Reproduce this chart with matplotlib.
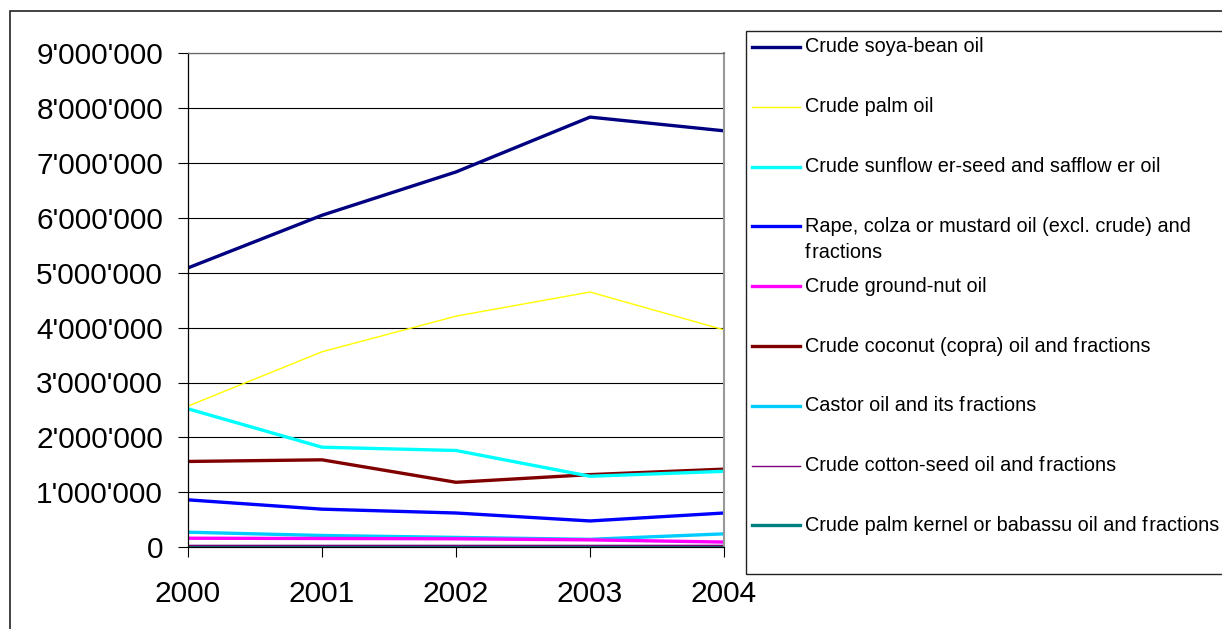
import matplotlib
matplotlib.use("Agg")
import matplotlib.pyplot as plt
from matplotlib.lines import Line2D
from matplotlib.patches import Rectangle
from matplotlib.ticker import FuncFormatter, MultipleLocator

plt.rcParams["font.family"] = ["Liberation Sans", "DejaVu Sans"]

years = ["2000", "2001", "2002", "2003", "2004"]

soya_bean = [5.09e6, 6.05e6, 6.84e6, 7.84e6, 7.59e6]
palm = [2.57e6, 3.56e6, 4.21e6, 4.65e6, 3.96e6]
sunflower = [2.52e6, 1.82e6, 1.76e6, 1.29e6, 1.38e6]
rape = [0.86e6, 0.69e6, 0.62e6, 0.475e6, 0.62e6]
ground_nut = [0.16e6, 0.155e6, 0.15e6, 0.13e6, 0.09e6]
coconut = [1.56e6, 1.59e6, 1.18e6, 1.32e6, 1.42e6]
castor = [0.27e6, 0.21e6, 0.175e6, 0.14e6, 0.24e6]
cotton_seed = [0.03e6, 0.03e6, 0.03e6, 0.03e6, 0.03e6]
palm_kernel = [0.01e6, 0.01e6, 0.01e6, 0.01e6, 0.01e6]

hs = "\u200a"  # hair space, mimics the odd gaps in the original legend
labels = [
    "Crude soya-bean oil",
    "Crude palm oil",
    "Crude sunflow er-seed and safflow er oil",
    f"Rape, colza or mustard oil (excl. crude) and\nf{hs}ractions",
    "Crude ground-nut oil",
    f"Crude coconut (copra) oil and f{hs}ractions",
    f"Castor oil and its f{hs}ractions",
    f"Crude cotton-seed oil and f{hs}ractions",
    f"Crude palm kernel or babassu oil and f{hs}ractions",
]
series = [soya_bean, palm, sunflower, rape, ground_nut, coconut, castor,
          cotton_seed, palm_kernel]
colors = ["#000080", "#FFFF00", "#00FFFF", "#0000FF", "#FF00FF", "#800000",
          "#00CCFF", "#800080", "#008080"]
widths = [2.4, 1.0, 2.4, 2.4, 2.4, 2.4, 2.4, 1.0, 2.4]

W, H = 1222, 629
fig = plt.figure(figsize=(W / 100, H / 100), dpi=100)

# outer chart-area border (runs off the right and bottom edges)
fig.patches.append(Rectangle((10 / W, -0.2), 1.5, 1 - 11 / H + 0.2,
                             transform=fig.transFigure, fill=False,
                             edgecolor="#222222", linewidth=1.2))

ax = fig.add_axes([188 / W, 1 - 547 / H, (724 - 188) / W, (547 - 53.5) / H])

x = list(range(len(years)))
# draw in reverse so the first series sits on top
for vals, c, lw in list(zip(series, colors, widths))[::-1]:
    ax.plot(x, vals, color=c, linewidth=lw, solid_capstyle="butt")

ax.set_xlim(0, 4)
ax.set_ylim(0, 9e6)
ax.set_xticks(x)
ax.set_xticklabels(years)
ax.yaxis.set_major_locator(MultipleLocator(1e6))
ax.yaxis.set_major_formatter(FuncFormatter(lambda v, p: f"{int(v):,}".replace(",", "'")))
ax.grid(axis="y", color="black", linewidth=0.8)
ax.set_axisbelow(True)

ax.tick_params(axis="both", labelsize=21.5, direction="out", length=7,
               width=0.8, color="black")
ax.tick_params(axis="y", pad=11)
ax.tick_params(axis="x", pad=17)

for side in ["left", "bottom"]:
    ax.spines[side].set_color("black")
    ax.spines[side].set_linewidth(0.9)
ax.spines["right"].set_color("#999999")
ax.spines["right"].set_linewidth(1.5)
ax.spines["top"].set_color("#666666")
ax.spines["top"].set_linewidth(0.9)

# legend box, drawn by hand so the slots stay evenly spaced
fig.patches.append(Rectangle((746 / W, 1 - 574 / H), 1, (574 - 31) / H,
                             transform=fig.transFigure, fill=True,
                             facecolor="white", edgecolor="#222222",
                             linewidth=1.0, zorder=5))
row0, step = 47, 59.8
for i, (lab, c, lw) in enumerate(zip(labels, colors, widths)):
    yy = 1 - (row0 + i * step) / H
    fig.add_artist(Line2D([752 / W, 800 / W], [yy, yy], color=c,
                          linewidth=lw, transform=fig.transFigure, zorder=6))
    fig.text(805 / W, yy, lab.split("\n")[0], fontsize=14.3, va="center",
             ha="left", zorder=6)
    if "\n" in lab:
        fig.text(805 / W, yy - 26 / H, lab.split("\n")[1], fontsize=14.3,
                 va="center", ha="left", zorder=6)

fig.savefig("out.png", dpi=100)
